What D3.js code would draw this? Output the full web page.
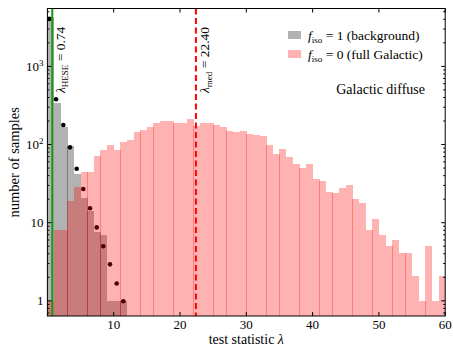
<!DOCTYPE html>
<html>
<head>
<meta charset="utf-8">
<script src="https://cdn.jsdelivr.net/npm/d3@7"></script>
<style>
  body { margin: 0; background: #fff; }
  text { font-family: "Liberation Serif", "Times New Roman", serif; fill: #000; }
</style>
</head>
<body>
<div id="chart"></div>
<script>
// histogram bins start at lambda = 0, width 1
const BIN_WIDTH = 1;
const backgroundCounts = [4300, 340, 168, 95, 42, 21, 14, 7.5, 7, 1, 1, 1];   // f_iso = 1
const galacticCounts = [                                                        // f_iso = 0
  1, 8, 8, 19, 29, 44, 44, 72, 85, 98,
  85, 108, 115, 146, 154, 168, 189, 200, 200, 189,
  189, 213, 174, 189, 189, 178, 168, 150, 146, 150,
  137, 133, 130, 98, 76, 88, 70, 57, 50, 57,
  36, 34, 25, 24, 28, 30, 20, 18, 8.1, 11.1,
  7, 5, 6, 4.1, 4.1, 2.07, 1, 5, 1, 2.07
];
// expected background (black dots)
const expectedX = [0.29, 1.3, 2.4, 3.41, 4.42, 5.41, 6.43, 7.44, 8.43, 9.44, 10.45, 11.45];
const expectedY = [4050, 380, 178, 92, 49, 27, 15.3, 8.7, 5.0, 2.93, 1.67, 0.99];

const LAMBDA_HESE = 0.74;
const LAMBDA_MED = 22.40;

const xTicks = [10, 20, 30, 40, 50, 60];
const yTicks = [1, 10, 100, 1000];
const yTickLabels = [["1", ""], ["10", ""], ["10", "2"], ["10", "3"]];

const WIDTH = 453, HEIGHT = 345;
const margin = {top: 8.5, right: 7.8, bottom: 29, left: 47.4};

const svg = d3.select("#chart").append("svg")
  .attr("width", WIDTH)
  .attr("height", HEIGHT);

const x = d3.scaleLinear().domain([0, 60]).range([margin.left, WIDTH - margin.right]);
const y = d3.scaleLog().domain([0.64, 5500]).range([HEIGHT - margin.bottom, margin.top]);
const bottom = HEIGHT - margin.bottom;

svg.append("clipPath").attr("id", "plotclip")
  .append("rect")
  .attr("x", x(0)).attr("y", margin.top)
  .attr("width", x(60) - x(0)).attr("height", bottom - margin.top);

const plot = svg.append("g").attr("clip-path", "url(#plotclip)");

function drawHist(counts, fill) {
  plot.append("g").selectAll("rect")
    .data(counts)
    .enter()
    .append("rect")
    .attr("shape-rendering", "crispEdges")
    .attr("x", (d, i) => Math.round(x(i * BIN_WIDTH)))
    .attr("width", Math.ceil(x(BIN_WIDTH) - x(0)))
    .attr("y", d => Math.round(y(d)))
    .attr("height", d => bottom - Math.round(y(d)))
    .attr("fill", fill);
}

drawHist(backgroundCounts, "rgba(0,0,0,0.3)");

plot.append("g").selectAll("circle")
  .data(expectedX)
  .enter()
  .append("circle")
  .attr("cx", d => x(d))
  .attr("cy", (d, i) => y(expectedY[i]))
  .attr("r", 2.3)
  .attr("fill", "#000");

drawHist(galacticCounts, "rgba(255,0,0,0.3)");

// lambda_HESE line
plot.append("line")
  .attr("x1", x(LAMBDA_HESE)).attr("x2", x(LAMBDA_HESE))
  .attr("y1", margin.top).attr("y2", bottom)
  .attr("stroke", "#119911").attr("stroke-width", 2);

// median line
plot.append("line")
  .attr("x1", x(LAMBDA_MED)).attr("x2", x(LAMBDA_MED))
  .attr("y1", margin.top).attr("y2", bottom)
  .attr("stroke", "#ff0000").attr("stroke-width", 2)
  .attr("stroke-dasharray", "6,3.5");

// rotated line labels
function lambdaLabel(xPos, sub, rest) {
  const t = svg.append("text")
    .attr("transform", "translate(" + xPos + ",93) rotate(-90)")
    .attr("font-size", "13.5px");
  t.append("tspan").attr("font-style", "italic").text("λ");
  t.append("tspan").attr("font-size", "9px").attr("dy", 3).text(sub);
  t.append("tspan").attr("dy", -3).text(" = " + rest);
}
lambdaLabel(x(LAMBDA_HESE) + 12.5, "HESE", "0.74");
lambdaLabel(x(LAMBDA_MED) + 13, "med", "22.40");

// frame
svg.append("rect")
  .attr("x", x(0)).attr("y", margin.top)
  .attr("width", x(60) - x(0)).attr("height", bottom - margin.top)
  .attr("fill", "none").attr("stroke", "#000").attr("stroke-width", 1);

// ticks (inward on all sides)
const axes = svg.append("g").attr("stroke", "#000").attr("stroke-width", 1);
xTicks.forEach(t => {
  axes.append("line").attr("x1", x(t)).attr("x2", x(t)).attr("y1", bottom).attr("y2", bottom - 4);
  axes.append("line").attr("x1", x(t)).attr("x2", x(t)).attr("y1", margin.top).attr("y2", margin.top + 4);
});
const minorY = [];
[0.1, 1, 10, 100, 1000].forEach(dec => {
  for (let k = 2; k <= 9; k++) {
    const v = dec * k;
    if (v > 0.64 && v < 5500) minorY.push(v);
  }
});
yTicks.forEach(t => {
  axes.append("line").attr("x1", x(0)).attr("x2", x(0) + 4).attr("y1", y(t)).attr("y2", y(t));
  axes.append("line").attr("x1", x(60)).attr("x2", x(60) - 4).attr("y1", y(t)).attr("y2", y(t));
});
minorY.forEach(t => {
  axes.append("line").attr("x1", x(0)).attr("x2", x(0) + 2).attr("y1", y(t)).attr("y2", y(t));
  axes.append("line").attr("x1", x(60)).attr("x2", x(60) - 2).attr("y1", y(t)).attr("y2", y(t));
});

// tick labels
svg.append("g").selectAll("text")
  .data(xTicks)
  .enter()
  .append("text")
  .attr("x", d => x(d))
  .attr("y", bottom + 13)
  .attr("text-anchor", "middle")
  .attr("font-size", "13px")
  .text(d => d);

yTicks.forEach((t, i) => {
  const lbl = svg.append("text")
    .attr("x", x(0) - 4)
    .attr("y", y(t) + 4.5)
    .attr("text-anchor", "end")
    .attr("font-size", "13px");
  lbl.append("tspan").text(yTickLabels[i][0]);
  if (yTickLabels[i][1]) {
    lbl.append("tspan").attr("font-size", "9px").attr("dy", -5).text(yTickLabels[i][1]);
  }
});

// axis labels
const xl = svg.append("text")
  .attr("x", (x(0) + x(60)) / 2)
  .attr("y", 343.5)
  .attr("text-anchor", "middle")
  .attr("font-size", "14px");
xl.append("tspan").text("test statistic ");
xl.append("tspan").attr("font-style", "italic").text("λ");

svg.append("text")
  .attr("transform", "translate(18.5," + ((margin.top + bottom) / 2) + ") rotate(-90)")
  .attr("text-anchor", "middle")
  .attr("font-size", "14.5px")
  .text("number of samples");

// legend
const legend = svg.append("g").attr("id", "legend");
const legendItems = [
  {fill: "rgba(0,0,0,0.3)", val: "1", txt: "(background)"},
  {fill: "rgba(255,0,0,0.3)", val: "0", txt: "(full Galactic)"}
];
legendItems.forEach((item, i) => {
  const yy = 31 + i * 19;
  legend.append("rect")
    .attr("x", 288).attr("y", yy)
    .attr("width", 13).attr("height", 8)
    .attr("fill", item.fill);
  const t = legend.append("text")
    .attr("x", 308).attr("y", yy + 8.5)
    .attr("font-size", "13.5px");
  t.append("tspan").attr("font-style", "italic").text("f");
  t.append("tspan").attr("font-size", "9px").attr("dy", 3).text("iso");
  t.append("tspan").attr("dy", -3).text(" = " + item.val + " " + item.txt);
});

svg.append("text")
  .attr("x", 425).attr("y", 94)
  .attr("text-anchor", "end")
  .attr("font-size", "14px")
  .text("Galactic diffuse");
</script>
</body>
</html>
